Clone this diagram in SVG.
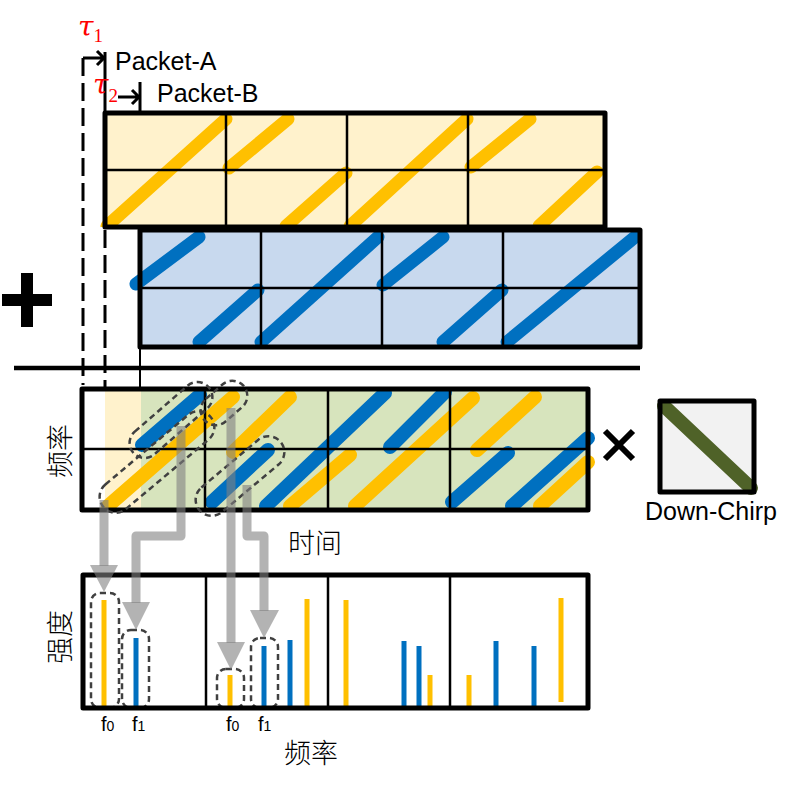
<svg xmlns="http://www.w3.org/2000/svg" width="792" height="785" viewBox="0 0 792 785">
<style>
.frame{fill:none;stroke:#000;stroke-width:5;stroke-linejoin:round}
.grid{fill:none;stroke:#000;stroke-width:2.5}
.cy{stroke:#FFC000;stroke-width:13;stroke-linecap:round;fill:none}
.cb{stroke:#0070C0;stroke-width:13;stroke-linecap:round;fill:none}
.dash{fill:none;stroke:#404040;stroke-width:2.5;stroke-dasharray:6 4}
.vdash{fill:none;stroke:#000;stroke-width:3;stroke-dasharray:18 7}
.solid{fill:none;stroke:#000;stroke-width:3}
.arrow{fill:none;stroke:#808080;stroke-opacity:0.6;stroke-width:9;stroke-linejoin:round}
.head{fill:#808080;fill-opacity:0.6}
.bary{stroke:#FFC000;stroke-width:5}
.barb{stroke:#0070C0;stroke-width:5}
.lat{font-family:"Liberation Sans",Arial,sans-serif;fill:#000}
.cjk{font-family:"Noto Sans CJK SC",sans-serif;font-weight:300;fill:#000;font-size:27px}
.tau{font-family:"DejaVu Serif","Liberation Serif",serif;font-style:italic;fill:#FF0000}
.sub{font-family:"Liberation Serif",serif;font-style:normal}
</style>
<defs>
<clipPath id="clipA"><rect x="0" y="113" width="792" height="114"/></clipPath>
<clipPath id="clipB"><rect x="0" y="230" width="792" height="117"/></clipPath>
<clipPath id="clipM"><rect x="0" y="389" width="792" height="121"/></clipPath>
</defs>
<rect width="792" height="785" fill="#fff"/>

<g id="timing">
<path class="vdash" d="M83,58 V385"/>
<path class="solid" d="M105,52 V113"/>
<path class="vdash" d="M105,230 V389"/>
<path class="solid" d="M140,82 V113"/>
<path class="solid" d="M140,347 V389" style="stroke-width:2"/>
<path class="solid" d="M83,58 H104 M97,51 L104,58 L97,65"/>
<path class="solid" d="M118,97 H139 M132,90 L139,97 L132,104"/>
<text class="tau" x="78" y="36" font-size="28">τ<tspan class="sub" font-size="19" dy="6">1</tspan></text>
<text class="tau" x="93" y="94" font-size="28">τ<tspan class="sub" font-size="19" dy="8">2</tspan></text>
<text class="lat" x="115" y="70" font-size="25">Packet-A</text>
<text class="lat" x="157" y="102" font-size="25">Packet-B</text>
</g>

<g id="packetA">
<rect x="105" y="113" width="500" height="114" fill="#FFF2CC"/>
<g clip-path="url(#clipA)">
<path class="cy" d="M107,226 L226,119 M229,168 L288,119 M286,226 L346,173 M350,226 L467,119 M471,167 L530,119 M539,226 L597,172"/>
</g>
<path class="grid" d="M226,113 V227 M347,113 V227 M468,113 V227 M105,170 H605"/>
<rect class="frame" x="105" y="113" width="500" height="114"/>
</g>

<g id="packetB">
<rect x="140" y="230" width="500" height="117" fill="#C8D9EE"/>
<g clip-path="url(#clipB)">
<path class="cb" d="M136,284 L199,237 M199,342 L258,290 M261,342 L378,237 M383,285 L443,237 M443,342 L502,290 M507,342 L635,237"/>
</g>
<path class="grid" d="M261,230 V347 M382,230 V347 M503,230 V347 M140,288 H640"/>
<rect class="frame" x="140" y="230" width="500" height="117"/>
</g>

<g id="plus">
<rect x="2" y="294" width="50" height="12"/>
<rect x="21" y="273" width="12" height="54"/>
</g>
<path id="separator" d="M14,368 H640" stroke="#000" stroke-width="4.5"/>

<g id="mixed">
<rect x="82" y="389" width="506" height="121" fill="#fff"/>
<rect x="105" y="389" width="36" height="121" fill="#FFF2CC"/>
<rect x="141" y="389" width="447" height="121" fill="#D7E4BD"/>
<g clip-path="url(#clipM)">
<path class="cy" style="stroke-width:14" d="M108,506 L233,397 M233,452 L290,397 M290,506 L350,455 M355,506 L473,398 M477,450 L535,397 M540,506 L588,462"/>
<path class="cb" style="stroke-width:14" d="M142,445 L200,395 M212,502 L268,450 M266,506 L385,393 M390,447 L445,392 M452,502 L508,453 M512,506 L588,438"/>
</g>
<path class="grid" d="M205,389 V510 M328,389 V510 M450,389 V510 M82,449 H588"/>
<rect class="frame" x="82" y="389" width="506" height="121"/>
<text class="cjk" transform="translate(70,451) rotate(-90)" text-anchor="middle" font-size="28">频率</text>
<text class="cjk" x="315" y="553" text-anchor="middle">时间</text>
</g>

<g id="times">
<path d="M605,431 L633,459 M633,431 L605,459" stroke="#000" stroke-width="6"/>
</g>

<g id="downchirp">
<rect x="660" y="401" width="94" height="91" fill="#F2F2F2"/>
<path d="M664,406 L751,488" stroke="#4F6228" stroke-width="14" stroke-linecap="round"/>
<rect class="frame" x="660" y="401" width="94" height="91"/>
<text class="lat" x="645" y="520" font-size="25">Down-Chirp</text>
</g>

<g id="spectrum">
<rect x="83" y="575" width="505" height="133" fill="#fff"/>
<rect class="dash" x="91" y="593" width="28" height="115" rx="9"/>
<rect class="dash" x="122" y="630" width="27" height="78" rx="9"/>
<rect class="dash" x="217" y="669" width="27" height="39" rx="9"/>
<rect class="dash" x="251" y="638" width="27" height="70" rx="9"/>
<path class="bary" d="M104,600 V706 M230,675 V706 M307,599 V706 M346,600 V706 M430,675 V706 M469,675 V706 M561,598 V702"/>
<path class="barb" d="M136,638 V706 M264,646 V706 M290,640 V706 M404,641 V706 M419,646 V706 M496,641 V706 M534,646 V706"/>
<path class="grid" d="M206,575 V708 M328,575 V708 M450,575 V708"/>
<rect class="frame" x="83" y="575" width="505" height="133"/>
<text class="cjk" transform="translate(70,637) rotate(-90)" text-anchor="middle" font-size="28">强度</text>
<text class="lat" x="101" y="731" font-size="20">f<tspan font-size="14">0</tspan></text>
<text class="lat" x="132" y="731" font-size="20">f<tspan font-size="14">1</tspan></text>
<text class="lat" x="226" y="731" font-size="20">f<tspan font-size="14">0</tspan></text>
<text class="lat" x="258" y="731" font-size="20">f<tspan font-size="14">1</tspan></text>
<text class="cjk" x="311" y="763" text-anchor="middle">频率</text>
</g>

<g id="highlights">
<rect class="dash" x="-50" y="-15" width="100" height="30" rx="15" transform="translate(171,420) rotate(-41)"/>
<rect class="dash" x="-70" y="-16" width="140" height="32" rx="16" transform="translate(157,462) rotate(-40)"/>
<rect class="dash" x="-26" y="-15" width="52" height="30" rx="15" transform="translate(224,403) rotate(-41)"/>
<rect class="dash" x="-53" y="-16" width="106" height="32" rx="16" transform="translate(240,476) rotate(-40)"/>
</g>

<g id="connectors">
<path class="arrow" d="M104,500 V566"/>
<polygon class="head" points="90,565 118,565 104,592"/>
<path class="arrow" d="M181,426 V536 H136 V603"/>
<polygon class="head" points="122,602 150,602 136,630"/>
<path class="arrow" d="M231,408 V643"/>
<polygon class="head" points="217,642 245,642 231,670"/>
<path class="arrow" d="M247,485 V536 H264 V611"/>
<polygon class="head" points="250,610 279,610 264,638"/>
</g>
</svg>
